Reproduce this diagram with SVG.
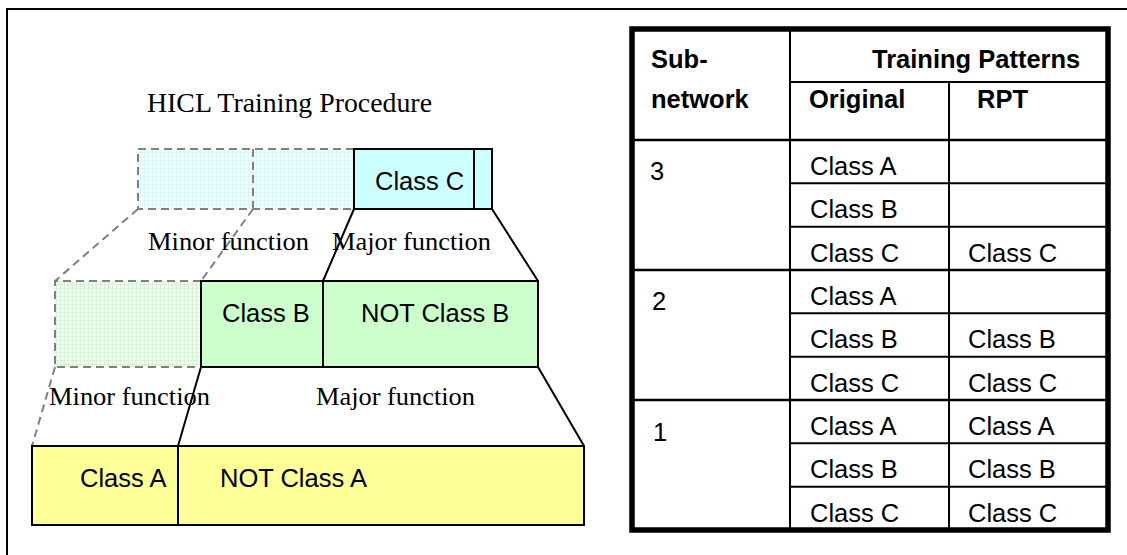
<svg xmlns="http://www.w3.org/2000/svg" width="1127" height="555" viewBox="0 0 1127 555">
<style>
.serif{font-family:"Liberation Serif","Times New Roman",serif;fill:#000}
.sans{font-family:"Liberation Sans",Arial,sans-serif;fill:#000;font-size:25.5px}
.bold{font-weight:bold}
.solid{stroke:#000;stroke-width:2;fill:none}
.box{stroke:#000;stroke-width:2}
.dash{stroke:#808080;stroke-width:2;stroke-dasharray:8 5;fill:none}
.grid{stroke:#000;stroke-width:2;fill:none}
</style>
<defs>
<pattern id="pc" width="4" height="4" patternUnits="userSpaceOnUse">
<rect width="4" height="4" fill="#f2ffff"/>
<path d="M0 0.5H4M0.5 0V4" stroke="#d9f7f7" stroke-width="1"/>
</pattern>
<pattern id="pg" width="4" height="4" patternUnits="userSpaceOnUse">
<rect width="4" height="4" fill="#f0fcf0"/>
<path d="M0 0.5H4M0.5 0V4" stroke="#d6f3d6" stroke-width="1"/>
</pattern>
</defs>
<g id="frame">
<path d="M7 555V9H1127" stroke="#000" stroke-width="2" fill="none"/>
</g>
<g id="title">
<text class="serif" x="147" y="112" font-size="26.5" textLength="285" lengthAdjust="spacingAndGlyphs">HICL Training Procedure</text>
</g>
<g id="connectors">
<path class="dash" d="M138 209L55 281M253 209L201 281M55 367L32 446"/>
<path class="solid" d="M354 209L323 281M492 209L538 281M201 367L178 446M538 367L584 446"/>
</g>
<g id="level3">
<rect x="138" y="149" width="216" height="60" fill="url(#pc)"/>
<path class="dash" d="M354 149H138V209H354M253 149V209"/>
<rect x="354" y="149" width="138" height="60" fill="#ccffff" class="box"/>
<line x1="474" y1="149" x2="474" y2="209" class="solid"/>
<text class="sans" x="375" y="190">Class C</text>
</g>
<g id="labels3">
<text class="serif" x="148" y="250" font-size="24.5" textLength="161" lengthAdjust="spacingAndGlyphs">Minor function</text>
<text class="serif" x="332" y="250" font-size="24.5" textLength="159" lengthAdjust="spacingAndGlyphs">Major function</text>
</g>
<g id="level2">
<rect x="55" y="281" width="146" height="86" fill="url(#pg)"/>
<path class="dash" d="M201 281H55V367H201"/>
<rect x="201" y="281" width="337" height="86" fill="#ccffcc" class="box"/>
<line x1="323" y1="281" x2="323" y2="367" class="solid"/>
<text class="sans" x="222" y="322">Class B</text>
<text class="sans" x="361" y="322">NOT Class B</text>
</g>
<g id="labels2">
<text class="serif" x="49" y="405" font-size="24.5" textLength="161" lengthAdjust="spacingAndGlyphs">Minor function</text>
<text class="serif" x="316" y="405" font-size="24.5" textLength="159" lengthAdjust="spacingAndGlyphs">Major function</text>
</g>
<g id="level1">
<rect x="32" y="446" width="552" height="79" fill="#ffff99" class="box"/>
<line x1="178" y1="446" x2="178" y2="525" class="solid"/>
<text class="sans" x="80" y="487">Class A</text>
<text class="sans" x="220" y="487">NOT Class A</text>
</g>
<g id="table">
<rect x="632" y="29" width="476" height="501" fill="#fff" stroke="#000" stroke-width="5.5"/>
<path class="grid" d="M790 29V530M949 82V530M790 82H1108"/>
<path stroke="#000" stroke-width="2.5" d="M632 140H1108M632 270H1108M632 400H1108"/>
<path class="grid" d="M790 183.3H1108M790 226.7H1108M790 313.3H1108M790 356.7H1108M790 443.3H1108M790 486.7H1108"/>
<text class="sans bold" x="651" y="68">Sub-</text>
<text class="sans bold" x="651" y="108">network</text>
<text class="sans bold" x="872" y="68">Training Patterns</text>
<text class="sans bold" x="809" y="108">Original</text>
<text class="sans bold" x="977" y="108">RPT</text>
<text class="sans" x="650" y="180">3</text>
<text class="sans" x="652" y="310">2</text>
<text class="sans" x="653" y="441">1</text>
<text class="sans" x="810" y="175">Class A</text>
<text class="sans" x="810" y="218.3">Class B</text>
<text class="sans" x="810" y="261.7">Class C</text>
<text class="sans" x="968" y="261.7">Class C</text>
<text class="sans" x="810" y="305">Class A</text>
<text class="sans" x="810" y="348.3">Class B</text>
<text class="sans" x="968" y="348.3">Class B</text>
<text class="sans" x="810" y="391.7">Class C</text>
<text class="sans" x="968" y="391.7">Class C</text>
<text class="sans" x="810" y="435">Class A</text>
<text class="sans" x="968" y="435">Class A</text>
<text class="sans" x="810" y="478.3">Class B</text>
<text class="sans" x="968" y="478.3">Class B</text>
<text class="sans" x="810" y="521.7">Class C</text>
<text class="sans" x="968" y="521.7">Class C</text>
</g>
</svg>
